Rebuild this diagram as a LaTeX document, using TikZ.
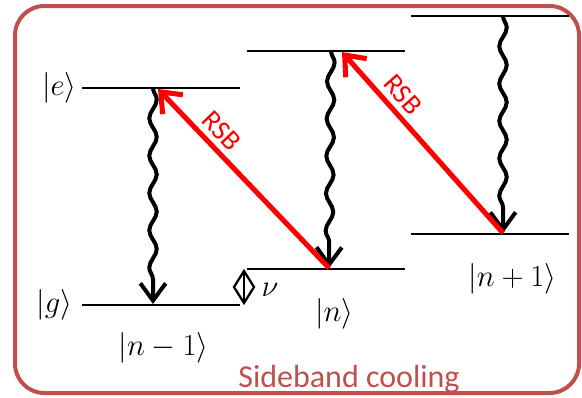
\documentclass[tikz,border=0pt]{standalone}
\usepackage{fix-cm}
\usepackage{fontspec}
\setsansfont{Carlito}
\usetikzlibrary{positioning,arrows.meta,decorations.pathmorphing}
\definecolor{frameRed}{HTML}{C0504D}
\tikzset{
	level/.style={line width=1.1pt}, % the energy levels
	decay/.style={line width=3pt, -{Straight Barb[length=13pt,width=19pt]}, decorate,
		decoration={snake, amplitude=2.8pt, segment length=28pt, post length=14pt}},
	rsb/.style={line width=3.8pt, red, -{Straight Barb[length=13pt,width=21pt]}},
	gap/.style={line width=1.7pt, line join=miter},
	ket/.style={inner sep=0pt, font=\fontsize{23}{27}\selectfont},
	tag/.style={red, sloped, above, inner sep=4pt, font=\sffamily\fontsize{21}{24}\selectfont}
}
\begin{document}
\begin{tikzpicture}[x=0.75pt,y=-0.75pt]
	\useasboundingbox (0,0) rectangle (582,397);
	\draw[frameRed, line width=3pt, rounded corners=22pt] (15,6) rectangle (579,393);
	% levels, one column per phonon number
	\coordinate (eL) at (82,88);   \coordinate (eR) at (240,88);
	\coordinate (gL) at (82,305);  \coordinate (gR) at (240,305);
	\coordinate (e2L) at (247,51); \coordinate (e2R) at (405,51);
	\coordinate (g2L) at (247,269);\coordinate (g2R) at (405,269);
	\coordinate (e3L) at (411,16); \coordinate (e3R) at (569,16);
	\coordinate (g3L) at (411,234);\coordinate (g3R) at (569,234);
	\draw[level] (eL) -- (eR);
	\draw[level] (gL) -- (gR);
	\draw[level] (e2L) -- (e2R);
	\draw[level] (g2L) -- (g2R);
	\draw[level] (e3L) -- (e3R);
	\draw[level] (g3L) -- (g3R);
	% ends of the transitions
	\coordinate (1) at (153,88);  \coordinate (2) at (153,304);
	\coordinate (3) at (331,51);  \coordinate (4) at (329,268);
	\coordinate (5) at (503,16);  \coordinate (6) at (503,233);
	\coordinate (7) at (158,89);  \coordinate (8) at (342,52);
	\draw[decay] (1) -- (2);
	\draw[decay] (3) -- (4);
	\draw[decay] (5) -- (6);
	\draw[rsb] (4) -- node[tag, pos=0.7]{RSB} (7);
	\draw[rsb] (6) -- node[tag, pos=0.7]{RSB} (8);
	% trap frequency
	\coordinate (nuTop) at (244,271); \coordinate (nuBot) at (244,303);
	\draw[gap] (nuTop) -- (254,287) -- (nuBot) -- (234,287) -- cycle;
	\draw[gap] (nuTop) -- (nuBot);
	\node[ket, right=13pt of nuTop, yshift=-14pt] (nu) {$\nu$};
	% state labels
	\node[ket, left=4pt of eL] (e) {$|e\rangle$};
	\node[ket, left=7pt of gL] (g) {$|g\rangle$};
	\node[ket, below=21pt of 2, xshift=8pt] (n1) {$|n-1\rangle$};
	\node[ket, below=23pt of 4, xshift=4pt] (n2) {$|n\rangle$};
	\node[ket, below=23pt of 6, xshift=7pt] (n3) {$|n+1\rangle$};
	\node[text=frameRed, anchor=base, font=\sffamily\fontsize{24}{28}\selectfont] (title) at (349,387) {Sideband cooling};
\end{tikzpicture}
\end{document}
